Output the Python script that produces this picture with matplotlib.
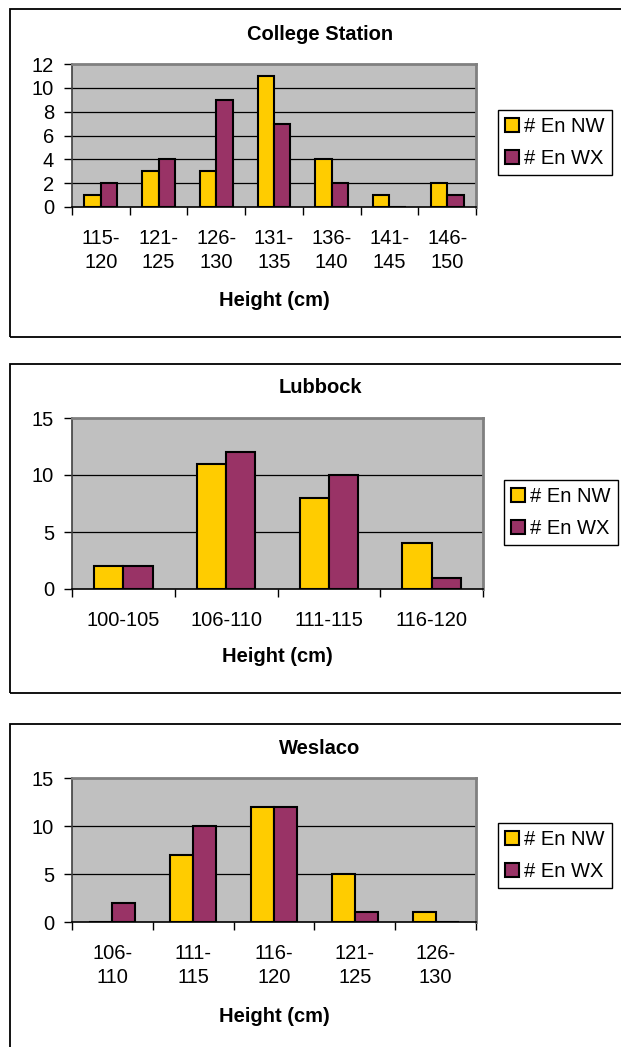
import matplotlib.pyplot as plt
from matplotlib.patches import Rectangle

plt.rcParams['font.family'] = ['Liberation Sans', 'DejaVu Sans']

# Anzahl Pflanzen je Höhenklasse
cs_labels = ['115-\n120', '121-\n125', '126-\n130', '131-\n135', '136-\n140', '141-\n145', '146-\n150']
cs_nw = [1, 3, 3, 11, 4, 1, 2]
cs_wx = [2, 4, 9, 7, 2, 0, 1]

lb_labels = ['100-105', '106-110', '111-115', '116-120']
lb_nw = [2, 11, 8, 4]
lb_wx = [2, 12, 10, 1]

wl_labels = ['106-\n110', '111-\n115', '116-\n120', '121-\n125', '126-\n130']
wl_nw = [0, 7, 12, 5, 1]
wl_wx = [2, 10, 12, 1, 0]

series_names = ['# En NW', '# En WX']
colors = ['#FFCC00', '#993366']

W, H = 621, 1047
fig = plt.figure(figsize=(W / 100, H / 100), dpi=100)


def fx(px):
    return px / W


def fy(py):
    return 1 - py / H


# Rahmen, Plotbereich, Titel- und Legendenposition je Diagramm (Pixel)
panels = [
    dict(title='College Station', labels=cs_labels, nw=cs_nw, wx=cs_wx,
         box=(10, 9, 337), plot=(72, 64, 476, 207), ymax=12, ystep=2,
         title_y=34.5, xlabel_y=301, legend=(498, 110)),
    dict(title='Lubbock', labels=lb_labels, nw=lb_nw, wx=lb_wx,
         box=(10, 364, 693), plot=(72, 418, 483, 589), ymax=15, ystep=5,
         title_y=387.5, xlabel_y=657, legend=(504, 480)),
    dict(title='Weslaco', labels=wl_labels, nw=wl_nw, wx=wl_wx,
         box=(10, 724, 1060), plot=(72, 778, 476, 922), ymax=15, ystep=5,
         title_y=748, xlabel_y=1017, legend=(498, 823)),
]

for p in panels:
    bx, btop, bbot = p['box']
    fig.patches.append(Rectangle((fx(bx), fy(bbot)), fx(700 - bx), (bbot - btop) / H,
                                 transform=fig.transFigure, fill=False,
                                 edgecolor='black', linewidth=1.3))

    x0, y0, x1, y1 = p['plot']
    ax = fig.add_axes([fx(x0), fy(y1), fx(x1 - x0), (y1 - y0) / H])
    ax.set_facecolor('#C0C0C0')

    n = len(p['labels'])
    w = 1 / 3.5
    centers = [i + 0.5 for i in range(n)]
    ax.bar([c - w / 2 for c in centers], p['nw'], width=w, color=colors[0],
           edgecolor='black', linewidth=1.5, zorder=3, label=series_names[0])
    ax.bar([c + w / 2 for c in centers], p['wx'], width=w, color=colors[1],
           edgecolor='black', linewidth=1.5, zorder=3, label=series_names[1])

    ax.set_xlim(0, n)
    ax.set_ylim(0, p['ymax'])
    yt = list(range(0, p['ymax'] + 1, p['ystep']))
    ax.set_yticks(yt)
    ax.set_yticklabels([str(v) for v in yt], fontsize=14.5)
    for v in yt[1:-1]:
        ax.axhline(v, color='black', linewidth=0.9, zorder=1)

    # Striche an den Klassengrenzen, Beschriftung in der Mitte
    ax.set_xticks(range(n + 1))
    ax.set_xticklabels([])
    ax.set_xticks(centers, minor=True)
    ax.set_xticklabels(p['labels'], minor=True, fontsize=14.5, linespacing=1.35)
    ax.tick_params(axis='x', which='major', direction='out', length=6, width=1, color='black')
    ax.tick_params(axis='x', which='minor', length=0, pad=16)
    ax.tick_params(axis='y', direction='out', length=6, width=1, color='black', pad=7)

    for side in ['top', 'right']:
        ax.spines[side].set_color('#808080')
        ax.spines[side].set_linewidth(2.0)
    ax.spines['left'].set_color('#404040')
    ax.spines['left'].set_linewidth(1.2)
    ax.spines['bottom'].set_color('black')
    ax.spines['bottom'].set_linewidth(1.2)

    fig.text(fx(320), fy(p['title_y']), p['title'], ha='center', va='center',
             fontsize=14.5, fontweight='bold')
    fig.text(fx((x0 + x1) / 2), fy(p['xlabel_y']), 'Height (cm)', ha='center',
             va='center', fontsize=14.5, fontweight='bold')

    lx, ly = p['legend']
    leg = ax.legend(loc='upper left', bbox_to_anchor=(fx(lx), fy(ly)),
                    bbox_transform=fig.transFigure, fontsize=14.5, frameon=True,
                    fancybox=False, framealpha=1, edgecolor='black',
                    handlelength=0.7, handleheight=0.7, handletextpad=0.25,
                    labelspacing=0.65, borderpad=0.35, borderaxespad=0)
    leg.get_frame().set_linewidth(1.0)

fig.savefig('out.png', dpi=100)
